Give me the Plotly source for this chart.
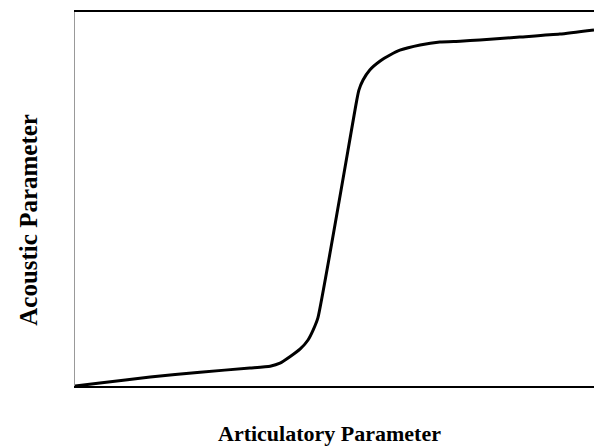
import plotly.graph_objects as go

# articulatory parameter (x) vs acoustic parameter (y)
articulatory = [0, 4.8, 14.5, 24.1, 33.7, 37.6, 39.5, 41.4, 43.4, 44.9, 45.9, 46.8,
                54.3, 54.7, 55.5, 56.8, 58.8, 60.7, 62.6, 66.5, 70.3, 74.2, 78.0,
                85.7, 93.4, 100]
acoustic = [0, 0.8, 2.4, 3.7, 4.8, 5.3, 6.1, 7.8, 9.9, 12.3, 15.0, 18.2,
            76.5, 79.1, 81.8, 84.5, 86.9, 88.5, 89.8, 91.2, 92.0, 92.2, 92.5,
            93.3, 94.1, 95.2]

fig = go.Figure(go.Scatter(
    x=articulatory, y=acoustic, mode="lines",
    line=dict(color="black", width=3, shape="spline", smoothing=0.5),
    hoverinfo="skip",
))

serif = "Liberation Serif"

fig.update_layout(
    width=594, height=447,
    margin=dict(l=75, r=0, t=12, b=61, pad=0),
    paper_bgcolor="white", plot_bgcolor="white",
    showlegend=False,
    xaxis=dict(
        range=[0, 100], showgrid=False, zeroline=False, showticklabels=False, ticks="",
        showline=True, linecolor="black", linewidth=2, mirror=True, automargin=False,
    ),
    yaxis=dict(
        range=[0, 100], showgrid=False, zeroline=False, showticklabels=False, ticks="",
        showline=True, linecolor="#999999", linewidth=1, automargin=False,
    ),
    annotations=[
        dict(text="<b>Articulatory Parameter</b>", xref="paper", yref="paper",
             x=0.491, y=-0.128, xanchor="center", yanchor="middle", showarrow=False,
             font=dict(family=serif, size=22, color="black")),
        dict(text="<b>Acoustic Parameter</b>", xref="paper", yref="paper",
             x=-0.089, y=0.444, xanchor="center", yanchor="middle", showarrow=False,
             textangle=-90, font=dict(family=serif, size=25, color="black")),
    ],
)

# drop the default 8px page margin so the full 594x447 figure fits the window
fig.write_html("out.html", config={"displayModeBar": False},
               post_script="document.body.style.margin='0';document.body.style.overflow='hidden';")
